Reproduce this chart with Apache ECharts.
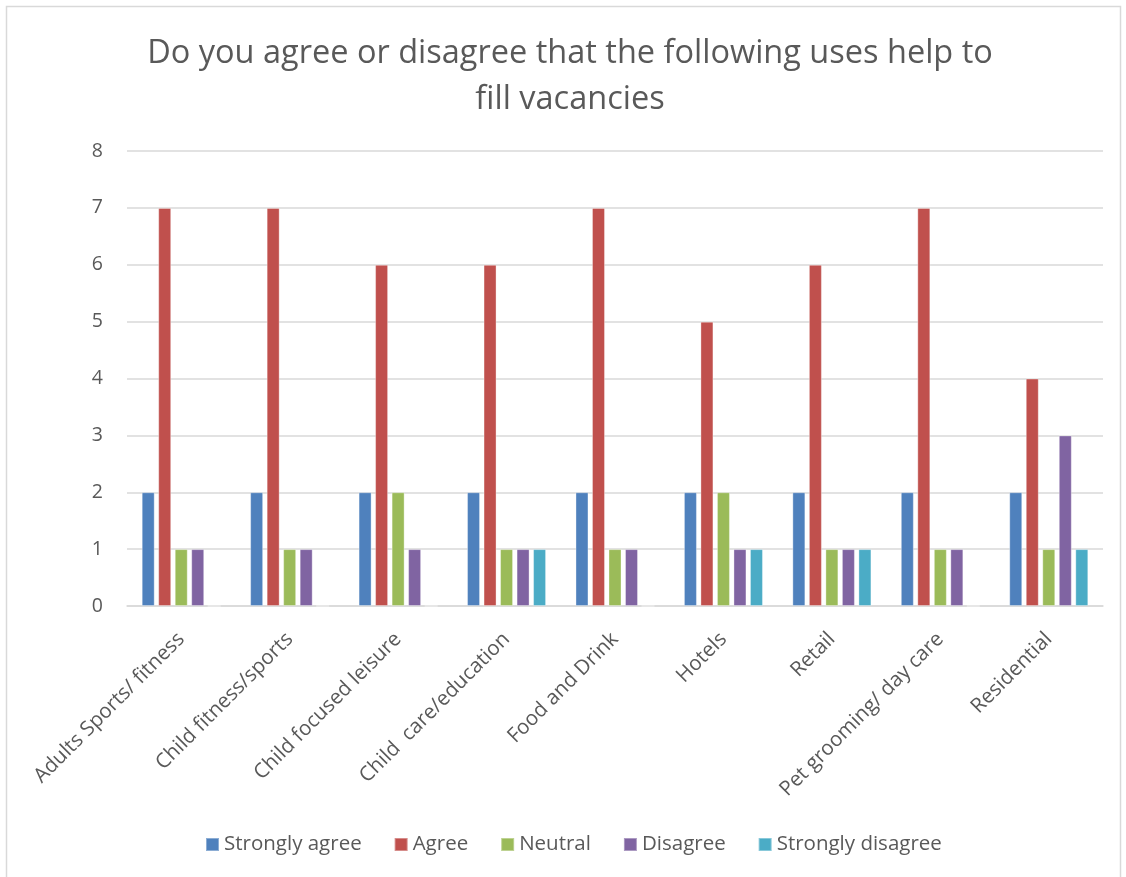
<!DOCTYPE html>
<html>
<head>
<meta charset="utf-8">
<script src="https://cdn.jsdelivr.net/npm/echarts@6/dist/echarts.min.js"></script>
<style>
html,body{margin:0;padding:0;background:#fff;}
#main{width:1126px;height:877px;}
</style>
</head>
<body>
<div id="main"></div>
<script>
const categories = ["Adults Sports/ fitness","Child fitness/sports","Child focused leisure","Child  care/education","Food and Drink","Hotels","Retail","Pet grooming/ day care","Residential"];
const seriesNames = ["Strongly agree","Agree","Neutral","Disagree","Strongly disagree"];
const stronglyAgree = [2,2,2,2,2,2,2,2,2];
const agree = [7,7,6,6,7,5,6,7,4];
const neutral = [1,1,2,1,1,2,1,1,1];
const disagree = [1,1,1,1,1,1,1,1,3];
const stronglyDisagree = [0,0,0,1,0,1,1,0,1];
const yTicks = [0,1,2,3,4,5,6,7,8];
const colors = ["#4F81BD","#C0504D","#9BBB59","#8064A2","#4BACC6"];

const allValues = [stronglyAgree, agree, neutral, disagree, stronglyDisagree];
const FONT = "'Open Sans', sans-serif";
const chart = echarts.init(document.getElementById('main'));
chart.setOption({
  animation: false,
  color: colors,
  title: {
    text: 'Do you agree or disagree that the following uses help to\nfill vacancies',
    left: 565,
    textAlign: 'center',
    top: 26,
    textStyle: {fontFamily: FONT, fontSize: 32.5, fontWeight: 'normal', color: '#595959', lineHeight: 46}
  },
  graphic: [{
    type: 'rect', shape: {x: 6.5, y: 6.5, width: 1114, height: 880},
    style: {fill: 'none', stroke: '#D9D9D9', lineWidth: 1.5}, silent: true
  }],
  legend: {
    data: seriesNames,
    top: 829,
    left: 200,
    icon: 'rect',
    itemWidth: 13, itemHeight: 13, itemGap: 32,
    textStyle: {fontFamily: FONT, fontSize: 20.5, color: '#595959'}
  },
  grid: {left: 127, right: 23, top: 151, bottom: 271, containLabel: false},
  xAxis: {
    type: 'category',
    data: categories,
    axisLine: {show: true, lineStyle: {color: '#D9D9D9', width: 1.5}},
    axisTick: {show: false},
    axisLabel: {rotate: 45, interval: 0, margin: 30, fontFamily: FONT, fontSize: 20.5, color: '#595959'}
  },
  yAxis: {
    type: 'value',
    min: yTicks[0], max: yTicks[yTicks.length-1], interval: 1,
    axisLine: {show: false},
    axisTick: {show: false},
    splitLine: {lineStyle: {color: '#D9D9D9', width: 1.5}},
    axisLabel: {margin: 24, fontFamily: FONT, fontSize: 19.5, color: '#595959'}
  },
  series: seriesNames.map((n, i) => ({
    name: n,
    type: 'bar',
    data: allValues[i],
    barWidth: 13,
    barGap: '27%',
    itemStyle: {color: colors[i], borderColor: 'rgba(255,255,255,0.35)', borderWidth: 1}
  }))
});
</script>
</body>
</html>
